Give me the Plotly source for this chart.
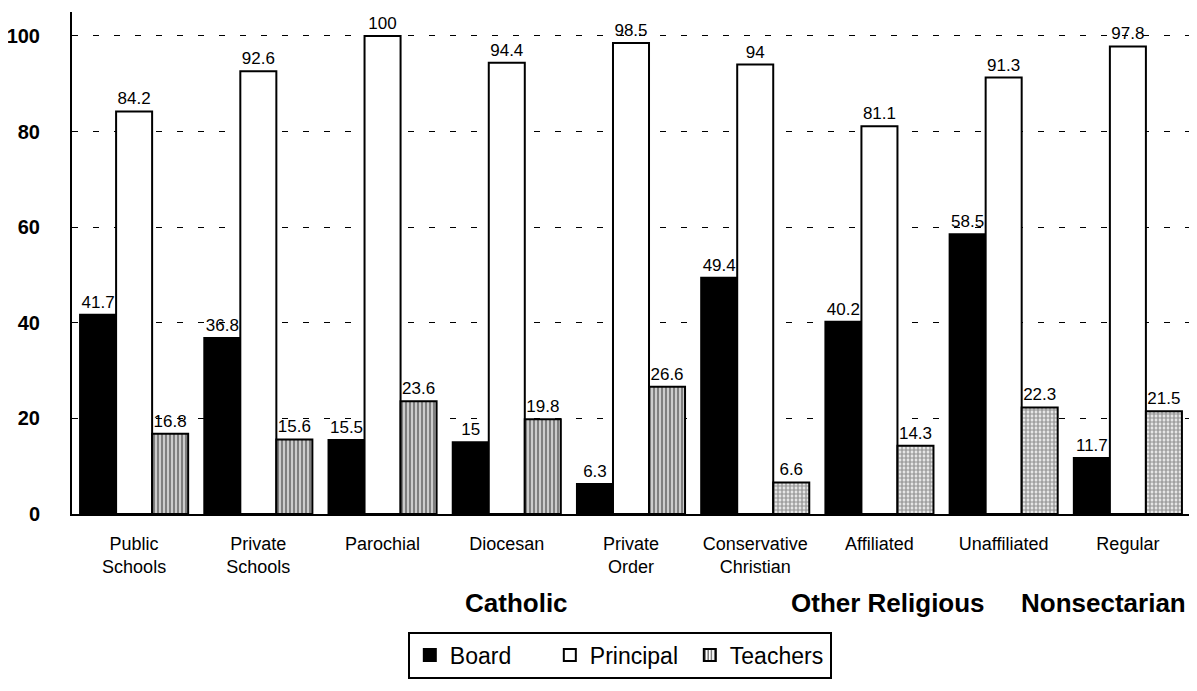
import plotly.graph_objects as go

# Data
categories = ["Public<br>Schools", "Private<br>Schools", "Parochial", "Diocesan", "Private<br>Order",
              "Conservative<br>Christian", "Affiliated", "Unaffiliated", "Regular"]
board = [41.7, 36.8, 15.5, 15, 6.3, 49.4, 40.2, 58.5, 11.7]
principal = [84.2, 92.6, 100, 94.4, 98.5, 94, 81.1, 91.3, 97.8]
teachers = [16.8, 15.6, 23.6, 19.8, 26.6, 6.6, 14.3, 22.3, 21.5]
group_labels = ["Catholic", "Other Religious", "Nonsectarian"]

font = "Liberation Sans, Arial, sans-serif"

# teachers bars: striped in the first five groups, stippled grey in the rest
t_shapes = ["|"] * 5 + ["."] * 4
t_fg = ["black"] * 5 + ["#444444"] * 4
t_sol = [0.7] * 5 + [0.7] * 4

fig = go.Figure()
fig.add_trace(go.Bar(
    x=categories, y=board, name="Board",
    marker=dict(color="black", line=dict(color="black", width=2)),
    text=[f"{v:g}" for v in board], textposition="outside",
))
fig.add_trace(go.Bar(
    x=categories, y=principal, name="Principal",
    marker=dict(color="white", line=dict(color="black", width=2)),
    text=[f"{v:g}" for v in principal], textposition="outside",
))
fig.add_trace(go.Bar(
    x=categories, y=teachers, name="Teachers",
    marker=dict(color="white", line=dict(color="black", width=2),
                pattern=dict(shape=t_shapes, fgcolor=t_fg, bgcolor="white",
                             size=4, solidity=t_sol, fillmode="overlay")),
    text=[f"{v:g}" for v in teachers], textposition="outside",
))

fig.update_traces(textfont=dict(family=font, size=17, color="black"),
                  cliponaxis=False, constraintext="none")

# group labels under the categories
group_pos = [("Diocesan", 10), ("Affiliated", 9), ("Regular", -24)]
for label, (cat, shift) in zip(group_labels, group_pos):
    fig.add_annotation(x=cat, xref="x", y=-0.177, yref="paper", xshift=shift,
                       text=f"<b>{label}</b>", showarrow=False,
                       font=dict(family=font, size=26, color="black"),
                       yanchor="middle")

# the page body adds an 8px offset, so the figure is a bit smaller than the window
fig.update_layout(
    width=1189, height=683,
    margin=dict(l=64, r=7, t=4, b=177, autoexpand=False),
    paper_bgcolor="white", plot_bgcolor="white",
    barmode="group", bargap=0.13, bargroupgap=0,
    font=dict(family=font, color="black"),
    showlegend=True,
    legend=dict(orientation="h", x=0.49, xanchor="center", y=-0.281, yanchor="middle",
                bordercolor="black", borderwidth=2,
                font=dict(family=font, size=23, color="black"),
                itemwidth=30, entrywidth=95, traceorder="normal"),
    xaxis=dict(showline=True, linecolor="black", linewidth=2, automargin=False,
               tickfont=dict(family=font, size=18, color="black"),
               ticks="", ticklabelstandoff=12),
    yaxis=dict(range=[0, 105], tickvals=[0, 20, 40, 60, 80, 100], automargin=False,
               showline=True, linecolor="black", linewidth=2,
               showgrid=True, gridcolor="black", gridwidth=1, griddash="6px,15px",
               zeroline=False, ticks="", ticklabelstandoff=26,
               tickfont=dict(family=font, size=20, color="black", weight="bold")),
)

fig.write_html("out.html")
